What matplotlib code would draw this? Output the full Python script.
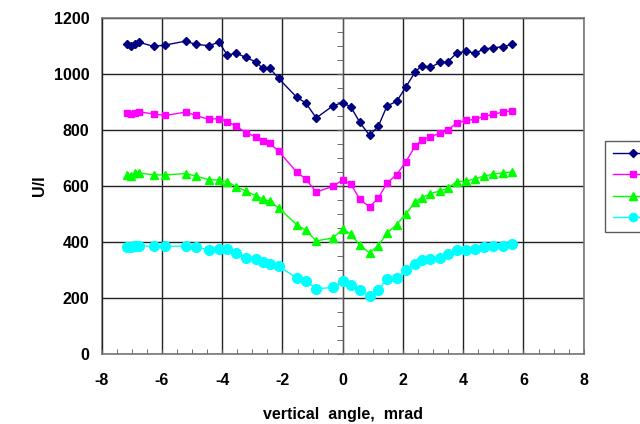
import matplotlib
matplotlib.use('Agg')
import matplotlib.pyplot as plt
from matplotlib.ticker import MultipleLocator

plt.rcParams['font.family'] = ['Liberation Sans', 'DejaVu Sans']
plt.rcParams['font.weight'] = 'bold'
plt.rcParams['axes.unicode_minus'] = False

# vertical angle, mrad (shared by all four series)
angle = [-7.16, -7.02, -6.91, -6.76, -6.28, -5.89, -5.21, -4.88, -4.44, -4.11,
         -3.83, -3.54, -3.22, -2.89, -2.65, -2.42, -2.13, -1.52, -1.23, -0.88,
         -0.33, 0.0, 0.27, 0.57, 0.89, 1.18, 1.47, 1.79, 2.10, 2.41,
         2.63, 2.91, 3.22, 3.48, 3.78, 4.09, 4.39, 4.70, 5.00, 5.31, 5.61]

s_navy = [1106, 1098, 1107, 1113, 1098, 1103, 1117, 1105, 1101, 1113,
          1067, 1074, 1059, 1043, 1020, 1020, 984, 916, 897, 843,
          886, 898, 882, 827, 781, 813, 886, 902, 954, 1008,
          1029, 1023, 1041, 1042, 1074, 1081, 1074, 1089, 1093, 1097, 1105]
s_magenta = [859, 857, 862, 865, 857, 852, 864, 852, 838, 841,
             830, 814, 791, 776, 761, 752, 725, 649, 626, 579,
             599, 622, 607, 553, 526, 557, 611, 641, 687, 744,
             764, 776, 788, 799, 825, 834, 838, 849, 856, 864, 869]
s_green = [641, 635, 646, 647, 640, 640, 645, 636, 623, 622,
           616, 598, 583, 566, 554, 546, 522, 462, 443, 405,
           415, 447, 429, 389, 362, 388, 432, 463, 501, 544,
           559, 573, 583, 592, 616, 618, 626, 636, 643, 647, 651]
s_cyan = [383, 383, 386, 388, 385, 385, 387, 383, 373, 376,
          376, 361, 344, 339, 330, 322, 315, 272, 261, 234,
          239, 261, 249, 230, 210, 230, 270, 273, 300, 323,
          335, 342, 345, 357, 374, 371, 377, 383, 388, 388, 393]

series = [s_navy, s_magenta, s_green, s_cyan]
colors = ['#000080', '#FF00FF', '#00FF00', '#00FFFF']
markers = ['D', 's', '^', 'o']
msizes = [4.5, 5, 6, 7]

fig = plt.figure(figsize=(6.4, 4.24), dpi=100)
ax = fig.add_axes([0.159, 0.164, 0.753, 0.794])

handles = []
for ys, c, m, ms in zip(series, colors, markers, msizes):
    h, = ax.plot(angle, ys, color=c, marker=m, markersize=ms, lw=1,
                 markeredgecolor=c, zorder=3)
    handles.append(h)

ax.set_xlim(-8, 8)
ax.set_ylim(0, 1200)
ax.xaxis.set_major_locator(MultipleLocator(2))
ax.xaxis.set_minor_locator(MultipleLocator(0.5))
ax.yaxis.set_major_locator(MultipleLocator(200))
ax.yaxis.set_minor_locator(MultipleLocator(50))
ax.grid(True, which='major', color='#222222', lw=1, zorder=0)

# y axis drawn through x = 0 (minor ticks only), labels on the frame
ax.spines['left'].set_position(('data', 0))
ax.spines['left'].set_color('#555555')
for s in ['top', 'right', 'bottom']:
    ax.spines[s].set_color('#777777')
    ax.spines[s].set_linewidth(1.2)
ax.tick_params(axis='y', which='both', labelleft=False, direction='out',
               length=4, color='#555555')
ax.tick_params(axis='x', which='both', direction='in', length=3.5,
               color='#555555', labelsize=11.5, pad=13)

sec = ax.secondary_yaxis('left')
sec.yaxis.set_major_locator(MultipleLocator(200))
sec.tick_params(length=0, labelsize=11.5, pad=9)
sec.spines['left'].set_color('#777777')
sec.spines['left'].set_linewidth(1.2)
sec.set_ylabel('U/I', fontsize=11.5, fontweight='bold', labelpad=5)

for lab in ax.get_xticklabels() + sec.get_yticklabels():
    lab.set_fontweight('bold')

ax.set_xlabel('vertical  angle,  mrad', fontsize=11.5, fontweight='bold',
              labelpad=14)

leg = fig.legend(handles, [''] * 4, loc='upper left',
                 bbox_to_anchor=(0.946, 0.668), borderaxespad=0,
                 frameon=True, fancybox=False, edgecolor='#333333',
                 handlelength=3.2, labelspacing=0.75, borderpad=0.6,
                 fontsize=9, markerscale=0.85)
leg.get_frame().set_linewidth(1)

fig.savefig('out.png', dpi=100)
